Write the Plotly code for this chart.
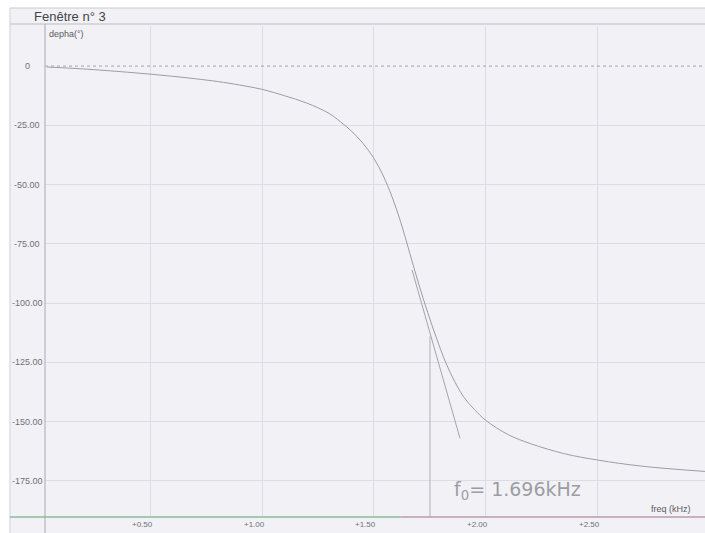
import plotly.graph_objects as go

freq_khz = [0.04, 0.2, 0.4, 0.6, 0.8, 0.9, 1.0, 1.1, 1.2, 1.3, 1.35, 1.4, 1.45, 1.5,
            1.54, 1.58, 1.62, 1.66, 1.70, 1.74, 1.78, 1.82, 1.86, 1.90, 1.95, 2.0,
            2.1, 2.2, 2.35, 2.5, 2.7, 2.98]
phase_deg = [-0.4, -1.2, -2.6, -4.3, -6.5, -8.0, -9.8, -12.5, -15.6, -20.0, -23.5, -27.5,
             -32.5, -39.0, -46.0, -55.0, -66.0, -79.0, -92.0, -104.0, -115.0, -125.0,
             -133.0, -139.5, -145.0, -149.5, -155.5, -159.3, -163.5, -166.2, -168.8, -171.0]

# hand-drawn tangent and marker line
tangent_freq = [1.67, 1.884]
tangent_phase = [-86.0, -157.0]
f0_line_freq = [1.75, 1.75]
f0_line_phase = [-114.0, -192.5]

x_ticks = [0.5, 1.0, 1.5, 2.0, 2.5]
x_tick_labels = ["+0.50", "+1.00", "+1.50", "+2.00", "+2.50"]
y_ticks = [0, -25, -50, -75, -100, -125, -150, -175]
y_tick_labels = ["0", "-25.00", "-50.00", "-75.00", "-100.00", "-125.00", "-150.00", "-175.00"]

fig = go.Figure()

fig.add_trace(go.Scatter(x=[0.031, 2.978], y=[0, 0], mode="lines",
                         line=dict(color="#a4a4ae", width=1, dash="3px,3px"),
                         hoverinfo="skip", showlegend=False))
fig.add_trace(go.Scatter(x=freq_khz, y=phase_deg, mode="lines",
                         line=dict(color="#9c9ca4", width=1, shape="spline", smoothing=1.0),
                         showlegend=False))
fig.add_trace(go.Scatter(x=tangent_freq, y=tangent_phase, mode="lines",
                         line=dict(color="#a4a4aa", width=1), showlegend=False))
fig.add_trace(go.Scatter(x=f0_line_freq, y=f0_line_phase, mode="lines",
                         line=dict(color="#b0b0b8", width=1), showlegend=False, cliponaxis=False))

annotations = []
for v, t in zip(y_ticks, y_tick_labels):
    annotations.append(dict(x=0, xref="paper", y=v, yref="y", text=t, showarrow=False,
                            xanchor="center", yanchor="middle", xshift=-18,
                            font=dict(family="Liberation Sans", size=9, color="#707076")))
for v, t in zip(x_ticks, x_tick_labels):
    annotations.append(dict(x=v, xref="x", y=0, yref="paper", text=t, showarrow=False,
                            xanchor="center", yanchor="middle", xshift=-8, yshift=-7,
                            font=dict(family="Liberation Sans", size=8, color="#707076")))
annotations += [
    dict(x=-13 / 660, xref="paper", y=1, yref="paper", text="Fenêtre n° 3", showarrow=False,
         xanchor="left", yanchor="bottom", font=dict(family="Liberation Sans", size=13, color="#444448")),
    dict(x=0, xref="paper", y=1, yref="paper", text="depha(°)", showarrow=False,
         xanchor="left", yanchor="top", xshift=2, yshift=-1,
         font=dict(family="Liberation Sans", size=9, color="#5a5a60")),
    dict(x=1, xref="paper", y=0, yref="paper", text="freq (kHz)", showarrow=False,
         xanchor="right", yanchor="bottom", xshift=-12, yshift=1,
         font=dict(family="Liberation Sans", size=9, color="#5a5a60")),
    dict(x=2.14, xref="x", y=-179, yref="y", text="f<sub>0</sub>= 1.696kHz", showarrow=False,
         xanchor="center", yanchor="middle",
         font=dict(family="DejaVu Sans", size=19, color="#9c9ca4")),
]

shapes = [
    dict(type="rect", xref="paper", yref="paper", x0=-35/660, x1=1.0, y0=-16/491, y1=1 + 18/491,
         fillcolor="#f2f2f6", line=dict(width=0), layer="below"),
    dict(type="line", xref="paper", yref="paper", x0=-35/660, x1=1.0, y0=1 + 18/491, y1=1 + 18/491,
         line=dict(color="#c8c8d0", width=1)),
    dict(type="line", xref="paper", yref="paper", x0=-35/660, x1=1.0, y0=1 + 2/491, y1=1 + 2/491,
         line=dict(color="#bcbcc6", width=1)),
    dict(type="line", xref="paper", yref="paper", x0=-35/660, x1=-35/660, y0=-16/491, y1=1 + 18/491,
         line=dict(color="#d0d0d8", width=1)),
    dict(type="line", xref="paper", yref="paper", x0=0, x1=0, y0=-16/491, y1=1 + 2/491,
         line=dict(color="#a8a8b0", width=1)),
    dict(type="line", xref="paper", yref="paper", x0=-35/660, x1=0.54, y0=0, y1=0,
         line=dict(color="#8fb898", width=1.5)),
    dict(type="line", xref="paper", yref="paper", x0=0.54, x1=1.0, y0=0, y1=0,
         line=dict(color="#b89aae", width=1.5)),
]

fig.update_layout(
    width=705, height=533,
    margin=dict(l=45, r=0, t=26, b=16),
    paper_bgcolor="white",
    plot_bgcolor="#f4f4f8",
    showlegend=False,
    annotations=annotations,
    shapes=shapes,
    xaxis=dict(range=[0.031, 2.978], tickvals=x_ticks, showticklabels=False,
               showgrid=True, gridcolor="#dcdce2", gridwidth=1, zeroline=False,
               showline=False, ticks=""),
    yaxis=dict(range=[-190.2, 16.9], tickvals=y_ticks[1:], showticklabels=False,
               showgrid=True, gridcolor="#dcdce2", gridwidth=1, zeroline=False,
               showline=False, ticks=""),
)

fig.write_html("out.html")
